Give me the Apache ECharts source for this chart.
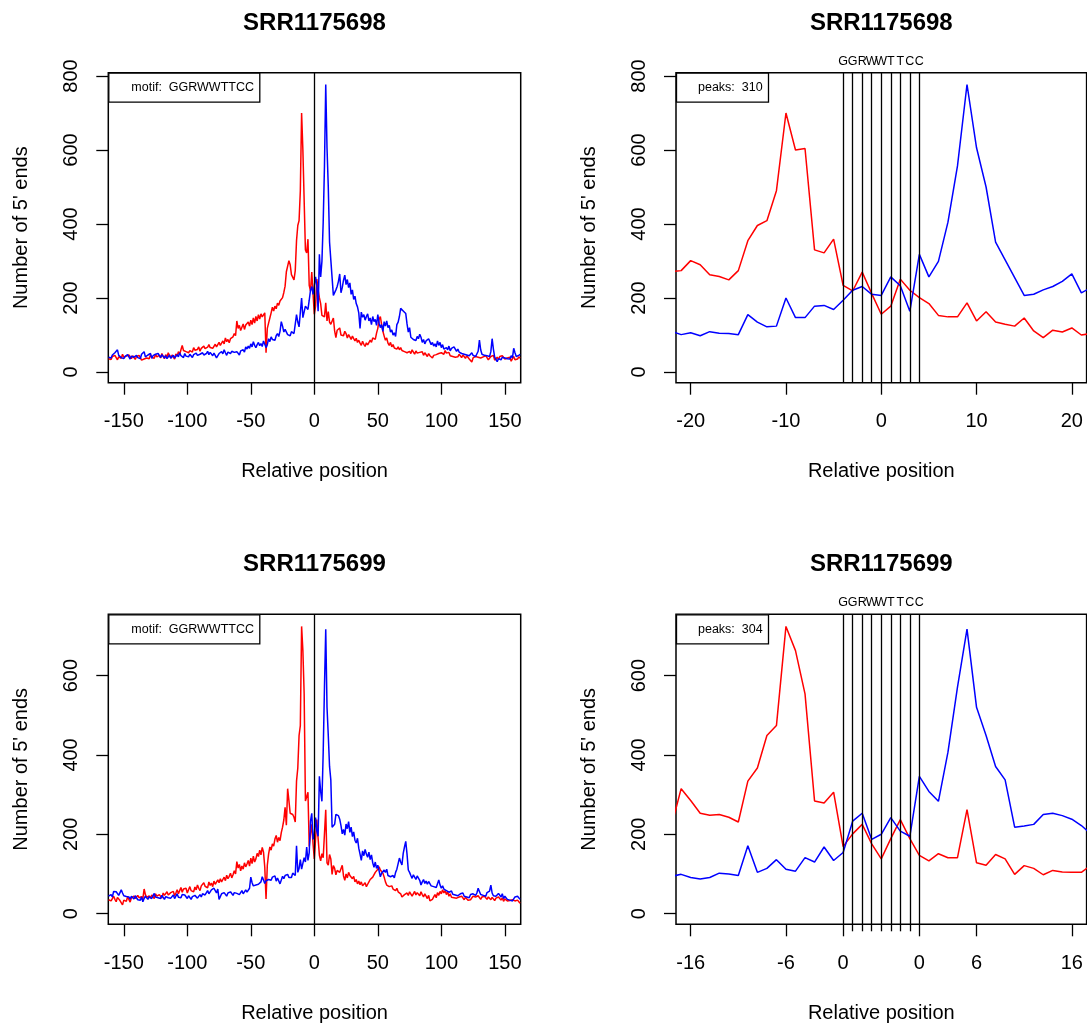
<!DOCTYPE html>
<html><head><meta charset="utf-8">
<script src="https://cdn.jsdelivr.net/npm/echarts@6/dist/echarts.min.js"></script>
<style>html,body{margin:0;padding:0;background:#fff}#c{width:1087px;height:1026px}</style>
</head><body><div id="c"></div>
<script>
// ---------------- data ----------------
const SAMPLES = ['SRR1175698', 'SRR1175699'];
const MOTIF = 'GGRWWTTCC';
const PEAK_COUNTS = [310, 304];
const POS_FIRST = -162, POS_LAST = 162;          // relative positions covered by the arrays
const MOTIF_POS = [-4, -3, -2, -1, 0, 1, 2, 3, 4];
const WIDE_TICKS = [-150, -100, -50, 0, 50, 100, 150];
const ZOOM_TICKS = [-20, -10, 0, 10, 20];
const EDGE_TICKS = [-20, -10, -4, 4, 10, 20];
const EDGE_TICK_LABELS = ['-16', '-6', '0', '0', '6', '16'];
const INNER_TICKS = [-3, -2, -1, 0, 1, 2, 3];
const Y_TICKS_TOP = [0, 200, 400, 600, 800];
const Y_TICKS_BOTTOM = [0, 200, 400, 600];

// SRR1175698, red strand, positions -162..162
const srr698Red = [
 36,40,34,42,38,45,39,33,41,44, 37,48,40,35,43,38,46,41,36,44,
 39,34,42,37,45,40,32,27,35,30, 38,42,36,46,40,43,37,48,41,39,
 45,38,50,42,36,47,40,52,44,38, 46,41,35,49,43,55,47,60,72,58,
 63,55,60,52,58,62,54,66,59,57, 61,68,56,64,59,70,63,58,67,74,
 66,71,64,69,75,68,73,80,72,78, 84,76,92,82,88,79,90,86,95,104,
 98,138,118,126,112,121,130,115,127,122, 135,124,140,128,146,132,150,138,155,143,
 157,149,154,160,52,118,132,146,160,175, 165,178,171,186,180,192,188,201,215,232,
 271,274,301,290,263,258,249,274,355,396,409,490,700,600,604,330,322,359,234,219,270,212,
 156,178,251,221,201,185,153,149,149,187,138,163,135,129,124,146,111,93,113,108,119,100,104,
 98,110,104,92,101,95,88,97,90,84, 91,80,86,78,72,83,75,69,79,73,
 78,86,80,92,96,88,105,118,142,150, 128,110,97,86,92,78,72,80,68,74,
 65,70,62,68,60,66,58,63,55,60, 52,47,56,50,60,54,48,57,51,46,
 53,49,55,45,52,47,42,50,44,48, 38,45,40,47,43,50,46,52,56,48,
 58,51,46,53,44,49,42,47,40,45, 41,48,44,39,46,42,37,44,40,35,
 30,27,38,34,42,46,40,44,38,35, 41,37,44,39,33,36,42,38,45,32,
 36,40,34,42,37,44,39,35,30,38, 34,40,29,36,42,33,38,35,41,37
];
// SRR1175698, blue strand
const srr698Blue = [
 40,44,38,46,42,52,48,60,45,41, 39,44,36,42,38,47,41,35,43,48,
 40,37,45,39,42,36,48,44,55,41, 38,46,42,50,37,44,40,48,43,50,
 45,39,47,42,38,44,36,41,46,37, 40,45,38,43,47,41,52,44,48,39,
 50,43,46,41,48,44,39,47,42,51, 45,40,48,43,52,46,41,50,56,47,
 53,48,44,51,46,38,43,50,47,55, 49,60,52,45,54,58,50,56,61,53,
 48,55,50,46,57,52,60,54,68,62, 70,64,76,68,82,72,66,74,80,71,
 77,69,84,75,66,74,90,82,95,88, 92,86,98,104,96,110,136,124,108,115,
 110,101,106,98,109,105,104,101,155,135,122,124,200,147,147,178,180,169,194,221,231,210,
 207,257,233,164,318,257,299,405,557,777,606,500,351,303,255,207,210,222,231,245,265,214,228,
 248,262,236,250,228,241,210,222,196,205, 185,176,160,118,162,148,155,140,150,157,
 138,146,128,150,136,142,126,155,132,120, 128,110,136,124,138,120,126,108,114,100,
 106,96,128,135,150,172,176,165,170,158, 130,108,120,94,98,88,92,85,96,90,
 102,94,80,88,76,84,79,90,82,74, 80,70,76,68,84,72,80,66,74,62,
 58,66,60,70,57,64,62,68,70,56, 62,54,58,50,55,48,52,46,50,44,
 48,52,45,50,42,47,56,86,60,48, 52,45,50,44,48,42,55,90,62,40,
 34,28,36,38,33,40,44,38,42,36, 40,35,44,38,64,52,42,38,45,48
];
// SRR1175699, red strand
const srr699Red = [
 35,40,32,38,44,36,30,41,37,33, 28,22,34,39,31,42,36,29,40,35,
 44,38,33,46,40,35,43,37,62,48, 41,36,45,39,47,42,38,50,44,40,
 48,43,39,52,46,41,55,47,44,53, 49,56,45,52,60,50,58,66,54,62,
 57,64,52,60,68,58,63,55,67,60, 72,64,58,70,66,78,69,74,65,80,
 71,77,68,82,74,70,85,78,88,80, 86,92,83,97,88,94,102,90,98,108,
 100,131,115,124,108,120,112,128,118,125, 134,120,140,126,145,130,138,152,144,160,
 148,167,155,117,37,122,150,168,160,176, 170,188,197,180,192,184,204,218,236,268,
 223,315,285,253,248,250,243,231,334,367,449,474,724,663,554,284,279,306,169,201,225,176,
 138,189,237,189,147,133,151,141,141,262,128,122,149,138,99,121,114,98,109,105,104,104,122,
 95,84,100,90,104,96,101,88,94,80, 86,75,82,73,80,70,71,78,68,74,
 80,86,83,92,96,104,101,112,118,110, 115,102,92,80,72,76,68,63,70,62,
 66,58,64,55,60,50,42,39,48,45, 52,46,55,51,44,49,56,47,53,50,
 45,55,48,42,50,44,38,46,32,30, 36,42,48,40,53,46,56,50,60,52,
 58,48,55,44,50,41,46,40,43,39, 36,42,38,44,40,35,41,37,34,38,
 35,40,44,47,42,38,45,40,36,42, 38,44,40,36,42,39,35,41,37,33,
 39,36,42,38,34,40,31,37,35,32, 36,33,30,35,38,32,29,34,30,26
];
// SRR1175699, blue strand
const srr699Blue = [
 44,40,48,42,56,61,55,50,46,42, 60,52,45,40,43,38,42,36,44,40,
 37,45,41,35,39,34,42,30,38,44, 40,36,43,48,38,45,51,42,47,40,
 44,38,46,41,36,43,48,40,45,39, 42,47,38,44,50,41,46,40,48,44,
 47,42,38,45,40,36,43,39,46,41, 39,44,48,42,50,55,47,52,58,50,
 54,60,56,64,58,52,62,36,43,50, 46,53,48,44,52,47,55,50,46,53,
 49,51,56,48,53,58,50,55,60,54, 58,64,92,78,70,66,72,68,74,70,
 80,93,85,76,83,80,86,90,84,92, 88,95,82,90,86,75,80,94,88,96,
 94,99,91,87,91,102,100,96,171,104,114,136,112,107,141,130,168,134,154,233,253,187,
 200,242,208,195,346,308,283,407,571,717,520,449,371,337,218,221,225,250,253,247,238,222,201,
 212,198,226,214,232,205,218,194,206,185, 178,190,165,150,134,158,146,162,150,142,
 155,136,148,128,117,130,114,122,108,93, 102,98,110,104,112,96,100,93,88,96,
 90,104,112,126,140,130,123,152,168,182, 150,110,104,96,89,98,92,86,95,93,
 84,72,80,86,76,82,74,81,78,70, 75,68,73,66,70,85,72,64,70,62,
 66,58,62,54,51,57,49,54,47,52, 45,43,50,46,52,44,48,42,46,40,
 48,44,50,55,46,52,64,56,48,52, 46,50,44,53,48,57,72,52,45,50,
 44,48,51,46,42,50,38,44,40,36, 40,34,38,32,36,42,38,44,47,36
];

// ---------------- chart ----------------
const FONT = '"Liberation Sans", Arial, Helvetica, sans-serif';
const BLACK = '#000';
const positions = [];
for (let p = POS_FIRST; p <= POS_LAST; p++) positions.push(p);
const pairs = vals => vals.map((v, i) => [positions[i], v]);

const GRIDS = [
  { left: 108.3, top: 72.7, width: 412.4, height: 310 },
  { left: 676, top: 72.7, width: 410.6, height: 310 },
  { left: 108.3, top: 614.3, width: 412.4, height: 310 },
  { left: 676, top: 614.3, width: 410.6, height: 310 }
];
const WIDE_RANGE = [-162.2, 162.5];
const ZOOM_RANGE = [-21.54, 21.55];
const Y_RANGE_TOP = [-28.9, 808.9];
const Y_RANGE_BOTTOM = [-26.9, 754.5];

const txt = (size, weight) => ({ fontSize: size, fontWeight: weight || 'normal', color: BLACK, fontFamily: FONT });
const noLine = { show: false, onZero: false };

function xMain(gridIndex, range, ticks, fmt) {
  return {
    type: 'value', gridIndex, min: range[0], max: range[1], position: 'bottom',
    axisLine: noLine, splitLine: { show: false },
    axisTick: { show: true, customValues: ticks, length: 12, lineStyle: { color: BLACK, width: 1.3 } },
    axisLabel: Object.assign({ customValues: ticks, margin: 29, formatter: fmt || (v => String(v)) }, txt(20)),
    name: 'Relative position', nameLocation: 'middle', nameGap: 79, nameTextStyle: txt(20)
  };
}
function yMain(gridIndex, range, ticks) {
  return {
    type: 'value', gridIndex, min: range[0], max: range[1], position: 'left',
    axisLine: noLine, splitLine: { show: false },
    axisTick: { show: true, customValues: ticks, length: 12, lineStyle: { color: BLACK, width: 1.3 } },
    axisLabel: Object.assign({ customValues: ticks, rotate: 90, margin: 27, formatter: v => String(v) }, txt(20)),
    name: "Number of 5' ends", nameLocation: 'middle', nameRotate: 90, nameGap: 77, nameTextStyle: txt(20)
  };
}
function xLetters(gridIndex) {
  return {
    type: 'value', gridIndex, min: ZOOM_RANGE[0], max: ZOOM_RANGE[1], position: 'top',
    axisLine: noLine, axisTick: { show: false }, splitLine: { show: false },
    axisLabel: Object.assign({ customValues: MOTIF_POS, margin: 5, formatter: v => MOTIF[MOTIF_POS.indexOf(v)] }, txt(12.5))
  };
}

const xAxis = [
  xMain(0, WIDE_RANGE, WIDE_TICKS),
  xMain(1, ZOOM_RANGE, ZOOM_TICKS),
  xMain(2, WIDE_RANGE, WIDE_TICKS),
  xMain(3, ZOOM_RANGE, EDGE_TICKS, v => EDGE_TICK_LABELS[EDGE_TICKS.indexOf(v)]),
  xLetters(1),
  xLetters(3),
  {
    type: 'value', gridIndex: 3, min: ZOOM_RANGE[0], max: ZOOM_RANGE[1], position: 'bottom',
    axisLine: noLine, splitLine: { show: false }, axisLabel: { show: false },
    axisTick: { show: true, customValues: INNER_TICKS, length: 7, lineStyle: { color: BLACK, width: 1.3 } }
  }
];
const yAxis = [
  yMain(0, Y_RANGE_TOP, Y_TICKS_TOP),
  yMain(1, Y_RANGE_TOP, Y_TICKS_TOP),
  yMain(2, Y_RANGE_BOTTOM, Y_TICKS_BOTTOM),
  yMain(3, Y_RANGE_BOTTOM, Y_TICKS_BOTTOM)
];

function vlines(xs) {
  return {
    silent: true, symbol: ['none', 'none'], animation: false,
    label: { show: false }, lineStyle: { color: BLACK, type: 'solid', width: 1.3 },
    data: xs.map(x => ({ xAxis: x }))
  };
}
function lineSeries(idx, vals, color, mark) {
  const s = {
    type: 'line', xAxisIndex: idx, yAxisIndex: idx, data: pairs(vals),
    showSymbol: false, symbol: 'none', clip: true, animation: false,
    lineStyle: { color, width: 1.5 }, itemStyle: { color }
  };
  if (mark) s.markLine = mark;
  return s;
}
const RED = '#FF0000', BLUE = '#0000FF';
const series = [
  lineSeries(0, srr698Red, RED, vlines([0])), lineSeries(0, srr698Blue, BLUE),
  lineSeries(1, srr698Red, RED, vlines(MOTIF_POS)), lineSeries(1, srr698Blue, BLUE),
  lineSeries(2, srr699Red, RED, vlines([0])), lineSeries(2, srr699Blue, BLUE),
  lineSeries(3, srr699Red, RED, vlines(MOTIF_POS)), lineSeries(3, srr699Blue, BLUE)
];

const titles = [];
const centers = [GRIDS[0].left + GRIDS[0].width / 2, GRIDS[1].left + GRIDS[1].width / 2];
[[SAMPLES[0], 11], [SAMPLES[1], 552]].forEach(([name, top]) => {
  centers.forEach(cx => titles.push({ text: name, left: cx, top, textAlign: 'center', padding: 0, textStyle: txt(24, 'bold') }));
});
const boxStyle = { borderColor: BLACK, borderWidth: 1.3, backgroundColor: '#fff' };
[0, 2].forEach(g => titles.push(Object.assign({
  text: 'motif:  ' + MOTIF, left: GRIDS[g].left, top: GRIDS[g].top, padding: [8, 6, 8, 23],
  textStyle: Object.assign(txt(12.5), { lineHeight: 14 })
}, boxStyle)));
[1, 3].forEach((g, i) => titles.push(Object.assign({
  text: 'peaks:  ' + PEAK_COUNTS[i], left: GRIDS[g].left, top: GRIDS[g].top, padding: [8, 6, 8, 22],
  textStyle: Object.assign(txt(12.5), { lineHeight: 14 })
}, boxStyle)));

const chart = echarts.init(document.getElementById('c'), null, { renderer: 'canvas' });
chart.setOption({
  backgroundColor: '#fff',
  animation: false,
  title: titles,
  grid: GRIDS.map(g => Object.assign({ show: true, borderColor: BLACK, borderWidth: 1.5, backgroundColor: 'transparent', containLabel: false, outerBoundsMode: 'none' }, g)),
  xAxis, yAxis, series
});
</script></body></html>
